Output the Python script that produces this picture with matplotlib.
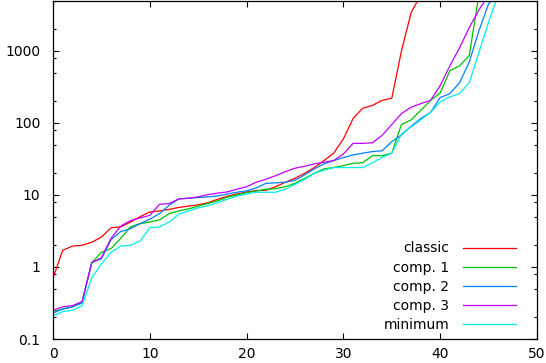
import matplotlib
matplotlib.use("Agg")
import matplotlib.pyplot as plt
import numpy as np
from matplotlib.ticker import FixedLocator, NullFormatter

# values, one per integer x (log scale)
classic = [0.7, 1.7, 1.95, 2.0, 2.2, 2.6, 3.5, 3.6, 4.2, 5.0,
           5.8, 6.0, 6.3, 6.7, 7.0, 7.3, 7.8, 8.7, 9.6, 10.3,
           11.0, 11.5, 11.6, 13, 15, 17, 20, 24, 30, 38,
           60, 115, 160, 175, 205, 220, 1000, 3400, 6000]
comp1 = [0.24, 0.26, 0.28, 0.32, 1.15, 1.6, 1.8, 2.5, 3.6, 4.0,
         4.2, 4.5, 5.5, 6.0, 6.4, 7.0, 7.6, 8.3, 9.3, 10.0,
         10.8, 11.3, 12.0, 12.2, 13, 14.5, 17, 20, 23, 24,
         25.5, 27.5, 28, 35, 35, 38, 95, 110, 150, 205,
         260, 530, 620, 860, 6000]
comp2 = [0.23, 0.26, 0.28, 0.32, 1.15, 1.3, 2.4, 3.1, 3.4, 4.0,
         4.6, 5.5, 7.2, 8.8, 9.0, 9.2, 9.4, 9.7, 10.3, 10.9,
         11.4, 12.5, 14.5, 14.7, 15, 16, 19, 23, 27, 30,
         33, 36, 38, 40, 41, 55, 68, 90, 115, 140,
         225, 255, 360, 700, 1900, 4500, 6000]
comp3 = [0.25, 0.28, 0.29, 0.33, 1.15, 1.35, 2.5, 3.7, 4.4, 4.8,
         5.2, 7.4, 7.6, 8.8, 9.0, 9.4, 10.1, 10.6, 11.0, 12.0,
         13.0, 15, 16.5, 18.5, 21, 23.5, 25, 27, 28.5, 30,
         37, 52, 52, 53, 67, 95, 135, 165, 185, 205,
         330, 620, 1100, 2100, 3700, 6000]
minimum = [0.21, 0.24, 0.25, 0.29, 0.7, 1.1, 1.6, 1.95, 2.0, 2.3,
           3.5, 3.6, 4.2, 5.4, 6.0, 6.6, 7.1, 7.8, 8.7, 9.6,
           10.3, 10.9, 10.9, 10.9, 12, 14, 16.5, 20, 22, 24,
           24, 24, 24, 28, 33, 38, 70, 88, 110, 140,
           195, 230, 255, 360, 950, 2500, 6000]

series = [("classic", classic, "#ff0000"),
          ("comp. 1", comp1, "#00c000"),
          ("comp. 2", comp2, "#0080ff"),
          ("comp. 3", comp3, "#c000ff"),
          ("minimum", minimum, "#00eeee")]

plt.rcParams['font.family'] = ['DejaVu Sans']
plt.rcParams['font.size'] = 10

fig = plt.figure(figsize=(5.46, 3.63), dpi=100)
ax = fig.add_axes([0.0971, 0.0661, 0.8864, 0.9325])

for name, vals, col in series:
    ax.plot(np.arange(len(vals)), vals, color=col, lw=0.9, label=name)

ax.set_yscale("log")
ax.set_xlim(0, 50)
ax.set_ylim(0.1, 5000)
ax.set_xticks([0, 10, 20, 30, 40, 50])
ax.yaxis.set_major_locator(FixedLocator([0.1, 1, 10, 100, 1000]))
ax.set_yticklabels(["0.1", "1", "10", "100", "1000"])
minors = [m * 10.0 ** e for e in range(-1, 4) for m in (2, 5, 8)]
ax.yaxis.set_minor_locator(FixedLocator(minors))
ax.yaxis.set_minor_formatter(NullFormatter())
ax.tick_params(which="both", direction="in", top=True, right=True, width=0.8)
ax.tick_params(which="major", length=4.5)
ax.tick_params(which="minor", length=2.5)
ax.tick_params(axis="x", pad=6)
ax.tick_params(axis="y", pad=9)
for s in ax.spines.values():
    s.set_linewidth(0.9)

ax.legend(loc="lower right", bbox_to_anchor=(0.945, 0.0854),
          bbox_transform=fig.transFigure, frameon=False, markerfirst=False,
          handlelength=3.8, handletextpad=1.0, labelspacing=0.37,
          borderpad=0, borderaxespad=0)

fig.savefig("out.png", dpi=100)
